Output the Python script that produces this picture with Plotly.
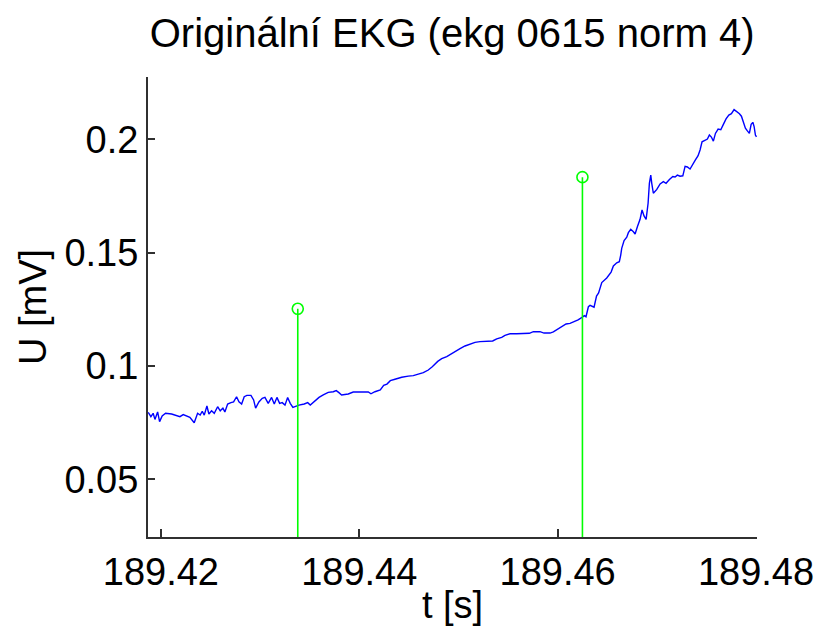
import plotly.graph_objects as go

# ECG samples: time [s] and voltage [mV]
t = [
    189.41872, 189.41899, 189.41922, 189.41940, 189.41967, 189.41987, 189.42013, 189.42047,
    189.42108, 189.42158, 189.42192, 189.42225, 189.42259, 189.42292, 189.42336, 189.42370,
    189.42396, 189.42417, 189.42437, 189.42464, 189.42484, 189.42511, 189.42538, 189.42572,
    189.42598, 189.42625, 189.42645, 189.42673, 189.42706, 189.42733, 189.42763, 189.42787,
    189.42814, 189.42840, 189.42867, 189.42908, 189.42935, 189.42955, 189.42988, 189.43022,
    189.43049, 189.43082, 189.43116, 189.43143, 189.43170, 189.43197, 189.43223, 189.43251,
    189.43278, 189.43304, 189.43331, 189.43359, 189.43392, 189.43445, 189.43480, 189.43506,
    189.43553, 189.43594, 189.43637, 189.43687, 189.43738, 189.43768, 189.43795, 189.43822,
    189.43889, 189.43939, 189.44024, 189.44091, 189.44118, 189.44158, 189.44212, 189.44246,
    189.44279, 189.44313, 189.44360, 189.44428, 189.44494, 189.44545, 189.44595, 189.44646,
    189.44696, 189.44736, 189.44791, 189.44831, 189.44882, 189.44925, 189.44965, 189.45016,
    189.45066, 189.45117, 189.45167, 189.45217, 189.45285, 189.45345, 189.45386, 189.45436,
    189.45469, 189.45520, 189.45587, 189.45654, 189.45715, 189.45755, 189.45822, 189.45863,
    189.45923, 189.45957, 189.45997, 189.46041, 189.46085, 189.46125, 189.46165, 189.46206,
    189.46246, 189.46269, 189.46286, 189.46310, 189.46327, 189.46354, 189.46367, 189.46392,
    189.46413, 189.46445, 189.46495, 189.46539, 189.46562, 189.46596, 189.46622, 189.46636,
    189.46646, 189.46670, 189.46697, 189.46713, 189.46737, 189.46764, 189.46781, 189.46804,
    189.46831, 189.46851, 189.46871, 189.46892, 189.46912, 189.46925, 189.46939, 189.46949,
    189.46965, 189.47000, 189.47033, 189.47066, 189.47093, 189.47127, 189.47161, 189.47184,
    189.47207, 189.47234, 189.47262, 189.47285, 189.47308, 189.47335, 189.47363, 189.47389,
    189.47416, 189.47436, 189.47456, 189.47484, 189.47510, 189.47530, 189.47550, 189.47570,
    189.47591, 189.47618, 189.47645, 189.47671, 189.47698, 189.47726, 189.47752, 189.47779,
    189.47806, 189.47833, 189.47853, 189.47873, 189.47893, 189.47913, 189.47933, 189.47951,
    189.47968, 189.47981, 189.47994, 189.48005,
]
u = [
    0.0795, 0.0776, 0.0791, 0.0764, 0.0797, 0.0754, 0.0779, 0.0791,
    0.0788, 0.0782, 0.0776, 0.0785, 0.0779, 0.0773, 0.0749, 0.0791,
    0.0783, 0.0800, 0.0783, 0.0823, 0.0788, 0.0802, 0.0791, 0.0820,
    0.0802, 0.0814, 0.0797, 0.0832, 0.0838, 0.0841, 0.0864, 0.0842,
    0.0832, 0.0864, 0.0870, 0.0870, 0.0850, 0.0814, 0.0841, 0.0857,
    0.0861, 0.0835, 0.0861, 0.0832, 0.0861, 0.0835, 0.0838, 0.0827,
    0.0861, 0.0835, 0.0817, 0.0823, 0.0827, 0.0832, 0.0838, 0.0827,
    0.0846, 0.0861, 0.0872, 0.0883, 0.0886, 0.0891, 0.0882, 0.0872,
    0.0876, 0.0885, 0.0885, 0.0885, 0.0877, 0.0886, 0.0894, 0.0914,
    0.0920, 0.0935, 0.0941, 0.0950, 0.0955, 0.0957, 0.0964, 0.0970,
    0.0982, 0.0996, 0.1020, 0.1032, 0.1041, 0.1053, 0.1063, 0.1076,
    0.1088, 0.1097, 0.1104, 0.1107, 0.1107, 0.1110, 0.1119, 0.1126,
    0.1135, 0.1142, 0.1142, 0.1142, 0.1144, 0.1151, 0.1151, 0.1145,
    0.1145, 0.1150, 0.1162, 0.1173, 0.1185, 0.1188, 0.1194, 0.1203,
    0.1214, 0.1222, 0.1217, 0.1261, 0.1267, 0.1262, 0.1259, 0.1308,
    0.1322, 0.1368, 0.1388, 0.1414, 0.1441, 0.1455, 0.1460, 0.1489,
    0.1519, 0.1553, 0.1568, 0.1588, 0.1603, 0.1592, 0.1582, 0.1614,
    0.1647, 0.1688, 0.1662, 0.1647, 0.1718, 0.1806, 0.1842, 0.1806,
    0.1762, 0.1779, 0.1803, 0.1813, 0.1806, 0.1823, 0.1836, 0.1834,
    0.1842, 0.1837, 0.1839, 0.1881, 0.1878, 0.1869, 0.1887, 0.1909,
    0.1928, 0.1953, 0.1989, 0.1996, 0.2001, 0.2019, 0.2010, 0.1992,
    0.2026, 0.2045, 0.2042, 0.2066, 0.2090, 0.2107, 0.2113, 0.2131,
    0.2122, 0.2113, 0.2102, 0.2071, 0.2049, 0.2037, 0.2026, 0.2066,
    0.2075, 0.2056, 0.2019, 0.2011,
]

# Detected markers drawn as stems
stem_t = [189.4338, 189.4625]
stem_u = [0.1252, 0.1833]

x_ticks = [189.42, 189.44, 189.46, 189.48]
x_tick_labels = ["189.42", "189.44", "189.46", "189.48"]
y_ticks = [0.05, 0.1, 0.15, 0.2]
y_tick_labels = ["0.05", "0.1", "0.15", "0.2"]

FONT = "Liberation Sans, Arial, Helvetica, sans-serif"
AXIS_COLOR = "#303030"
STEM_COLOR = "#00ff00"

fig = go.Figure()

fig.add_trace(go.Scatter(
    x=t, y=u, mode="lines",
    line=dict(color="#0000ff", width=1.4),
    showlegend=False, hoverinfo="skip",
))

# stems: vertical line from the zero baseline up to each marker
for st, su in zip(stem_t, stem_u):
    fig.add_trace(go.Scatter(
        x=[st, st], y=[0, su], mode="lines",
        line=dict(color=STEM_COLOR, width=1.6),
        showlegend=False, hoverinfo="skip",
    ))
fig.add_trace(go.Scatter(
    x=stem_t, y=stem_u, mode="markers",
    marker=dict(symbol="circle-open", size=11, color=STEM_COLOR,
                line=dict(color=STEM_COLOR, width=1.6)),
    showlegend=False, hoverinfo="skip", cliponaxis=False,
))

fig.update_layout(
    width=819, height=626,
    margin=dict(l=148, r=62, t=77, b=89, autoexpand=False),
    paper_bgcolor="white", plot_bgcolor="white",
    font=dict(family=FONT, size=38, color="black"),
    title=dict(
        text="Originální EKG (ekg 0615 norm 4)",
        font=dict(family=FONT, size=40, color="black"),
        x=0.552, xanchor="center", xref="container",
        y=0.947, yanchor="middle", yref="container",
    ),
)

fig.update_xaxes(
    range=[189.4187, 189.4801], automargin=False,
    tickmode="array", tickvals=x_ticks, ticktext=x_tick_labels,
    ticks="inside", ticklen=8, tickwidth=1.5, tickcolor=AXIS_COLOR,
    showline=True, linecolor=AXIS_COLOR, linewidth=2, mirror=False,
    showgrid=False, zeroline=False,
    tickfont=dict(family=FONT, size=38, color="black"),
    title=dict(text="t [s]", font=dict(family=FONT, size=38, color="black"), standoff=7),
)
fig.update_yaxes(
    range=[0.0245, 0.2275], automargin=False,
    tickmode="array", tickvals=y_ticks, ticktext=y_tick_labels,
    ticks="inside", ticklen=7, tickwidth=1.5, tickcolor=AXIS_COLOR,
    showline=True, linecolor=AXIS_COLOR, linewidth=2, mirror=False,
    showgrid=False, zeroline=False,
    tickfont=dict(family=FONT, size=38, color="black"),
    title=dict(text="U [mV]", font=dict(family=FONT, size=38, color="black"), standoff=6),
)

fig.write_html("out.html")
